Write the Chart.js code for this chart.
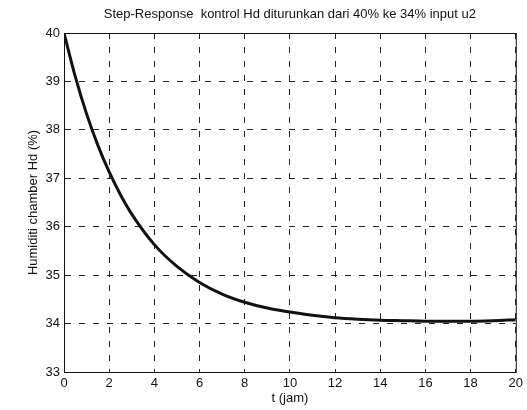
<!DOCTYPE html>
<html>
<head>
<meta charset="utf-8">
<script src="https://cdn.jsdelivr.net/npm/chart.js@4"></script>
<style>
  body { margin: 0; background: #fff; }
  #wrap { width: 527px; height: 410px; }
</style>
</head>
<body>
<div id="wrap"><canvas id="stepChart"></canvas></div>
<script>
// waktu (jam) dan humiditi chamber (%)
const waktu = [0, 0.5, 1, 1.5, 2, 2.5, 3, 4, 5, 6, 7, 8, 9, 10, 11, 12, 13, 14, 15, 16, 17, 18, 19, 20];
const humiditi = [40, 39.1, 38.33, 37.68, 37.13, 36.66, 36.26, 35.63, 35.18, 34.85, 34.61, 34.44, 34.32, 34.24, 34.17, 34.12, 34.09, 34.07, 34.06, 34.05, 34.05, 34.05, 34.06, 34.08];
const xTicks = [0, 2, 4, 6, 8, 10, 12, 14, 16, 18, 20];
const yTicks = [33, 34, 35, 36, 37, 38, 39, 40];

const fontUtama = { family: "'Liberation Sans', Arial, sans-serif", size: 13 };

const titik = waktu.map((t, i) => ({ x: t, y: humiditi[i] }));

// bingkai hitam di sekeliling area plot
const bingkai = {
  id: "bingkai",
  afterDraw(chart) {
    const { ctx, chartArea: a } = chart;
    ctx.save();
    ctx.strokeStyle = "#111";
    ctx.lineWidth = 1;
    ctx.strokeRect(a.left + 0.5, a.top + 0.5, a.right - a.left, a.bottom - a.top);
    ctx.restore();
  },
};

const grafikStep = new Chart(document.getElementById("stepChart"), {
  type: "line",
  data: {
    datasets: [
      {
        label: "Hd",
        data: titik,
        borderColor: "#111",
        borderWidth: 3,
        pointRadius: 0,
        cubicInterpolationMode: "monotone",
        fill: false,
      },
    ],
  },
  options: {
    responsive: true,
    maintainAspectRatio: false,
    animation: false,
    layout: { padding: { top: 0, right: 10, bottom: 0, left: 0 } },
    plugins: {
      legend: { display: false },
      tooltip: { enabled: false },
      title: {
        display: true,
        fullSize: false,
        text: "Step-Response  kontrol Hd diturunkan dari 40% ke 34% input u2",
        color: "#111",
        font: { ...fontUtama, weight: "normal" },
        padding: { top: 7, bottom: 10.4 },
      },
    },
    scales: {
      x: {
        type: "linear",
        min: 0,
        max: 20,
        afterBuildTicks: (s) => { s.ticks = xTicks.map((v) => ({ value: v })); },
        afterFit: (s) => { s.height = 38; },
        ticks: { color: "#111", font: fontUtama, padding: 4 },
        grid: { color: "#222", lineWidth: 1, drawTicks: false },
        border: { display: true, color: "#111", dash: [6, 8] },
        title: {
          display: true,
          text: "t (jam)",
          color: "#111",
          font: fontUtama,
          padding: { top: 0, bottom: 4.2 },
        },
      },
      y: {
        min: 33,
        max: 40,
        afterBuildTicks: (s) => { s.ticks = yTicks.map((v) => ({ value: v })); },
        afterFit: (s) => { s.width = 64; },
        ticks: { color: "#111", font: fontUtama, padding: 4 },
        grid: { color: "#222", lineWidth: 1, drawTicks: false },
        border: { display: true, color: "#111", dash: [6, 8] },
        title: {
          display: true,
          text: "Humiditi chamber Hd (%)",
          color: "#111",
          font: fontUtama,
          padding: { top: 25.2, bottom: 0 },
        },
      },
    },
  },
  plugins: [bingkai],
});
</script>
</body>
</html>
